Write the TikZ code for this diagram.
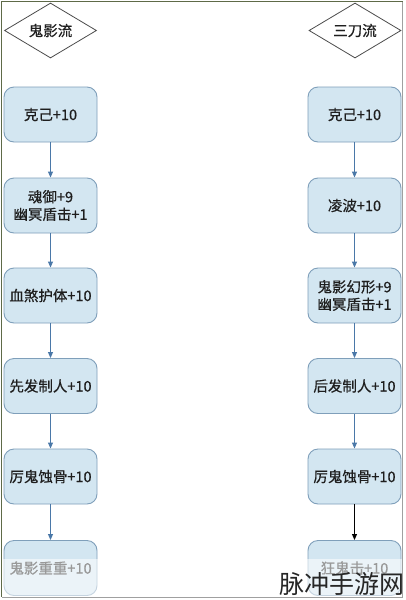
\documentclass[tikz,border=0pt]{standalone}
\usepackage{fontspec}
\setmainfont{Noto Sans CJK SC}
\newfontfamily\boxfont{Noto Sans CJK SC}[FakeBold=0.6]
\newfontfamily\wmfont{Noto Sans CJK SC}
\usetikzlibrary{shapes.geometric,arrows.meta}
\definecolor{boxfill}{HTML}{D3E6F1}
\definecolor{boxline}{HTML}{7F9FBA}
\definecolor{arrblue}{HTML}{4A78A8}
\definecolor{txt}{HTML}{1E1E1E}
\definecolor{frameL}{HTML}{5E6A48}
\definecolor{frameR}{HTML}{A0A0A0}
\tikzset{
  stepbox/.style={draw=boxline, line width=0.9pt, fill=boxfill, rounded corners=10pt,
    minimum width=93pt, minimum height=55pt, inner sep=0pt, align=center,
    font=\boxfont\fontsize{14.5}{17.5}\selectfont, text=txt},
  headdia/.style={draw=black!70, line width=0.8pt, fill=white, shape=diamond, aspect=1.7,
    minimum width=92pt, minimum height=55pt, inner sep=0pt,
    font=\boxfont\fontsize{14.5}{17}\selectfont, text=txt},
  flow/.style={draw=arrblue, line width=0.9pt, -{Triangle[length=6pt,width=5pt]}},
  flowk/.style={draw=black, line width=0.9pt, -{Triangle[length=6pt,width=5pt]}},
}
\begin{document}
\begin{tikzpicture}[x=1pt,y=-1pt]
\useasboundingbox (0,0) rectangle (406,600);
\fill[white] (0,0) rectangle (406,600);
% frame
\draw[frameR, line width=0.8pt] (402.5,1.5) -- (402.5,597) -- (1.5,597);
\draw[frameL, line width=1.2pt] (1.5,597) -- (1.5,1.5) -- (402.5,1.5);
% headers
\node[headdia] (lh) at (50.5,30.5) {鬼影流};
\node[headdia] (rh) at (355,30.5) {三刀流};
% left column
\node[stepbox] (l1) at (50.5,114.5) {克己+10};
\node[stepbox] (l2) at (50.5,205.5) {魂御+9\\幽冥盾击+1};
\node[stepbox] (l3) at (50.5,295.5) {血煞护体+10};
\node[stepbox] (l4) at (50.5,386) {先发制人+10};
\node[stepbox] (l5) at (50.5,476.5) {厉鬼蚀骨+10};
\node[stepbox] (l6) at (50.5,568) {鬼影重重+10};
% right column
\node[stepbox] (r1) at (354.5,114.5) {克己+10};
\node[stepbox] (r2) at (354.5,205.5) {凌波+10};
\node[stepbox] (r3) at (354.5,295.5) {鬼影幻形+9\\幽冥盾击+1};
\node[stepbox] (r4) at (354.5,386) {后发制人+10};
\node[stepbox] (r5) at (354.5,476.5) {厉鬼蚀骨+10};
\node[stepbox] (r6) at (354.5,568) {狂鬼击+10};
% connectors
\draw[flow] (l1) -- (l2);
\draw[flow] (l2) -- (l3);
\draw[flow] (l3) -- (l4);
\draw[flow] (l4) -- (l5);
\draw[flow] (l5) -- (l6);
\draw[flow] (r1) -- (r2);
\draw[flow] (r2) -- (r3);
\draw[flow] (r3) -- (r4);
\draw[flow] (r4) -- (r5);
\draw[flowk] (r5) -- (r6);
% faded band at the bottom
\fill[white, opacity=0.55] (2.5,559) rectangle (402,596.3);
% watermark
\node[anchor=south east, inner sep=0pt, font=\wmfont\fontsize{25}{25}\selectfont, text=black!85] (wm) at (405,596) {脉冲手游网};
\end{tikzpicture}
\end{document}
